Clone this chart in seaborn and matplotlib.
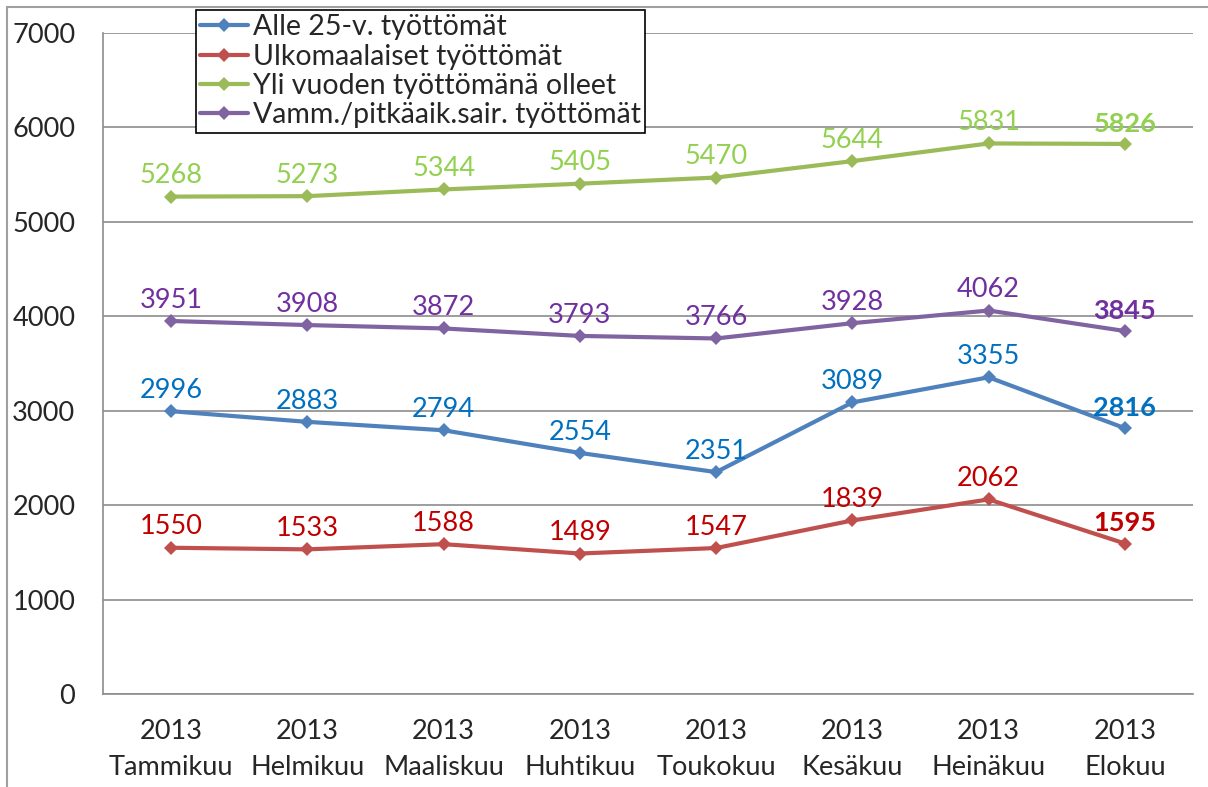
import pandas as pd
import matplotlib.pyplot as plt
import seaborn as sns
from matplotlib.patches import Rectangle

# data
months = ["2013\nTammikuu", "2013\nHelmikuu", "2013\nMaaliskuu", "2013\nHuhtikuu",
          "2013\nToukokuu", "2013\nKesäkuu", "2013\nHeinäkuu", "2013\nElokuu"]
alle25 = [2996, 2883, 2794, 2554, 2351, 3089, 3355, 2816]
ulkomaalaiset = [1550, 1533, 1588, 1489, 1547, 1839, 2062, 1595]
yli_vuoden = [5268, 5273, 5344, 5405, 5470, 5644, 5831, 5826]
vamm = [3951, 3908, 3872, 3793, 3766, 3928, 4062, 3845]

series = ["Alle 25-v. työttömät", "Ulkomaalaiset työttömät",
          "Yli vuoden työttömänä olleet", "Vamm./pitkäaik.sair. työttömät"]
values = [alle25, ulkomaalaiset, yli_vuoden, vamm]
line_colors = ["#4F81BD", "#C0504D", "#9BBB59", "#8064A2"]
label_colors = ["#0070C0", "#C00000", "#92D050", "#7030A0"]

rows = []
for name, vals in zip(series, values):
    for i, v in enumerate(vals):
        rows.append({"pos": i, "kk": months[i], "sarja": name, "arvo": v})
df = pd.DataFrame(rows)

sns.set_style("white")
plt.rcParams['font.family'] = ['Lato', 'DejaVu Sans']
fs = 19.5

fig = plt.figure(figsize=(12.08, 7.87), dpi=100)
ax = fig.add_axes([0.0853, 0.118, 0.9023, 0.840])

sns.lineplot(data=df, x="pos", y="arvo", hue="sarja", hue_order=series,
             palette=line_colors, marker="D", markersize=7, markeredgewidth=0,
             linewidth=3, ax=ax)

# data labels
for vals, col in zip(values, label_colors):
    for i, v in enumerate(vals):
        last = i == len(vals) - 1
        ax.annotate(str(v), (i, v), xytext=(0, 6), textcoords="offset points",
                    ha="center", va="bottom", fontsize=fs, color=col,
                    fontweight="bold" if last else "normal")

ax.set_xlim(-0.5, len(months) - 0.5)
ax.set_ylim(0, 7000)
ax.set_yticks(range(0, 7001, 1000))
ax.set_xticks(range(len(months)))
ax.set_xticklabels(months, fontsize=fs, linespacing=1.55)
ax.set_xticks([i - 0.5 for i in range(len(months) + 1)], minor=True)
ax.tick_params(axis="x", which="major", length=0, pad=18)
ax.tick_params(axis="x", which="minor", length=8, color="#8C8C8C", direction="out")
ax.tick_params(axis="y", length=8, color="#8C8C8C", direction="out", labelsize=fs, pad=12)
ax.set_xlabel("")
ax.set_ylabel("")
ax.grid(axis="y", color="#8C8C8C", linewidth=1.2)
ax.set_axisbelow(True)
for s in ["top", "right"]:
    ax.spines[s].set_visible(False)
for s in ["left", "bottom"]:
    ax.spines[s].set_color("#8C8C8C")
    ax.spines[s].set_linewidth(1.2)

leg = ax.legend(loc="upper left", bbox_to_anchor=(0.085, 1.035), fontsize=20.5,
                frameon=True, fancybox=False, handlelength=1.7, handletextpad=0.15,
                borderpad=0.15, labelspacing=0.12, borderaxespad=0)
leg.get_frame().set_edgecolor("black")
leg.get_frame().set_linewidth(1.2)
leg.get_frame().set_alpha(1)
for h in leg.get_lines():
    h.set_linewidth(3)

# outer chart border
fig.patches.append(Rectangle((7 / 1208, -0.01), 1.1, 1 - 7 / 787 + 0.01,
                             transform=fig.transFigure, fill=False,
                             edgecolor="#A0A0A0", linewidth=1.5))

fig.savefig("out.png", dpi=100)
